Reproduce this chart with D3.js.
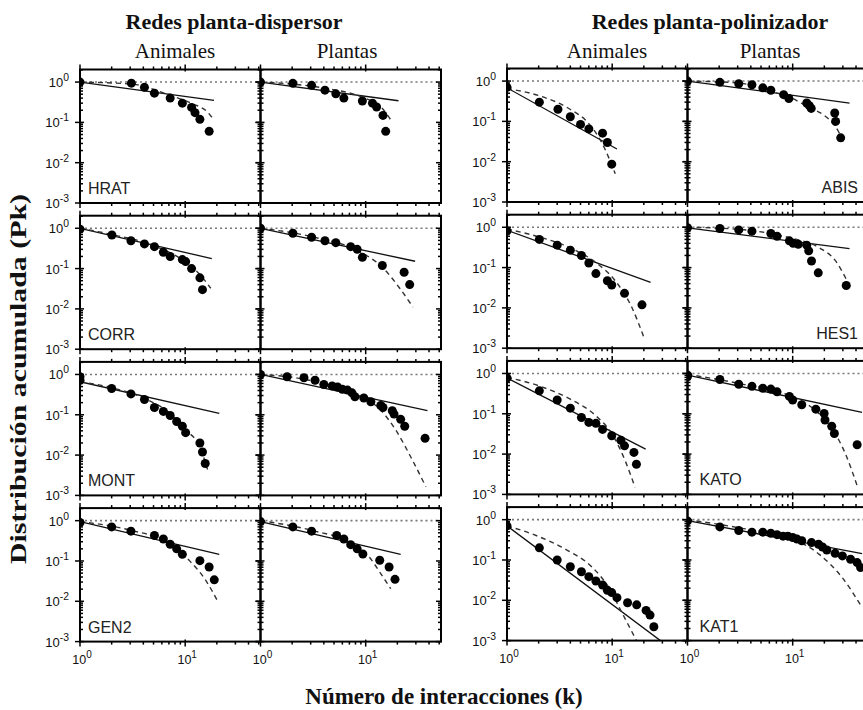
<!DOCTYPE html>
<html><head><meta charset="utf-8">
<script src="https://cdn.jsdelivr.net/npm/d3@7"></script>
<style>body{margin:0;background:#fff} svg{display:block}</style>
</head><body>
<svg id="chart" width="863" height="710"></svg>
<script>
// ---------- DATA (k, P) ----------
const groupTitles = ["Redes planta-dispersor", "Redes planta-polinizador"];
const colTitles = ["Animales", "Plantas", "Animales", "Plantas"];
const netNames = ["HRAT", "CORR", "MONT", "GEN2", "ABIS", "HES1", "KATO", "KAT1"];
const xTickLabels = [[1, "0"], [10, "1"]];
const yTickLabels = [[1, "0"], [0.1, "-1"], [0.01, "-2"], [0.001, "-3"]];

// HRAT
const hratA_pts = [[1,1],[3.08,0.94],[4.1,0.74],[5.1,0.53],[7.2,0.40],[9.4,0.30],[11.5,0.235],[12.4,0.174],[13.8,0.119],[16.9,0.060]];
const hratA_pow = [[1,1],[18.8,0.35]];
const hratA_cut = [[1,1],[3.1,0.89],[7.2,0.47],[11.7,0.29],[16.3,0.18],[18.5,0.12]];
const hratP_pts = [[1,1],[2.03,0.93],[3.06,0.83],[4.1,0.63],[5.2,0.51],[6.2,0.40],[9.3,0.34],[11.6,0.30],[12.7,0.24],[14.6,0.149],[15.5,0.060]];
const hratP_pow = [[1,1],[20.5,0.344]];
const hratP_cut = [[1,1],[4.1,0.70],[9.3,0.42],[14.2,0.23],[17.7,0.106]];
// CORR
const corrA_pts = [[1,0.95],[2.01,0.68],[3.05,0.49],[4.1,0.41],[5.1,0.35],[6.2,0.254],[7.2,0.20],[9.4,0.167],[10.1,0.149],[11.5,0.10],[13.8,0.059],[14.6,0.030]];
const corrA_pow = [[1,1],[17.9,0.177]];
const corrA_cut = [[1,1],[2,0.70],[5.1,0.365],[9.4,0.164],[13.6,0.074],[17.5,0.0325]];
const corrP_pts = [[1,1],[2.03,0.75],[3.06,0.60],[4.1,0.49],[5.2,0.44],[7.2,0.35],[8.3,0.30],[9.3,0.19],[14.4,0.119],[23.2,0.081],[26.2,0.040]];
const corrP_pow = [[1,1],[29.5,0.152]];
const corrP_cut = [[1,1],[3.06,0.62],[8.3,0.28],[14.4,0.108],[20.8,0.034],[28.2,0.011]];
// MONT
const montA_pts = [[1,0.88],[1,0.72],[2.0,0.45],[3.05,0.33],[4.1,0.24],[5.1,0.152],[6.2,0.121],[7.2,0.096],[8.3,0.068],[9.4,0.052],[10.1,0.036],[13.8,0.020],[14.6,0.0119],[15.5,0.0062]];
const montA_pow = [[1,0.66],[21.1,0.108]];
const montA_cut = [[1,0.66],[2.0,0.47],[4.1,0.254],[7.2,0.108],[10.1,0.042],[13.8,0.016],[16.3,0.0044]];
const montP_pts = [[1,1],[1.79,0.875],[2.59,0.83],[3.3,0.72],[4.0,0.565],[4.8,0.52],[5.4,0.49],[6.0,0.43],[6.7,0.41],[7.4,0.35],[7.9,0.28],[9.6,0.26],[11.2,0.21],[13.9,0.17],[14.6,0.152],[17.9,0.126],[18.6,0.104],[21.5,0.077],[23.5,0.052],[36.7,0.026]];
const montP_pow = [[1,1],[38.7,0.126]];
const montP_cut = [[1,1],[2.9,0.72],[7.9,0.31],[13.4,0.144],[19.3,0.042],[27.8,0.0075],[37.3,0.00164]];
// GEN2
const gen2A_pts = [[1,0.9],[2.0,0.70],[3.05,0.55],[5.1,0.43],[6.2,0.35],[7.2,0.26],[8.3,0.20],[9.4,0.146],[13.8,0.102],[16.9,0.071],[18.9,0.034]];
const gen2A_pow = [[1,0.95],[21.1,0.146]];
const gen2A_cut = [[1,0.95],[3.05,0.575],[7.2,0.27],[10.9,0.104],[15.7,0.033],[20.3,0.0102]];
const gen2P_pts = [[1,0.95],[2.03,0.70],[3.06,0.55],[5.3,0.43],[6.2,0.35],[7.2,0.254],[8.3,0.20],[9.4,0.149],[13.6,0.104],[16.7,0.071],[19.0,0.035]];
const gen2P_pow = [[1,0.95],[21.5,0.146]];
const gen2P_cut = [[1,1],[3.06,0.575],[7.2,0.28],[10.8,0.126],[13.9,0.0485],[17.3,0.0206]];
// ABIS
const abisA_pts = [[1,0.70],[2.03,0.30],[3.05,0.20],[4.0,0.13],[5.0,0.084],[6.0,0.065],[8.1,0.051],[9.0,0.030],[9.9,0.0087]];
const abisA_pow = [[1,0.68],[11.1,0.0206]];
const abisA_cut = [[1,0.65],[1.98,0.44],[3.9,0.206],[6.0,0.088],[8.0,0.029],[10.7,0.005]];
const abisP_pts = [[1,1],[2.03,0.93],[3.07,0.86],[4.1,0.81],[5.2,0.68],[6.2,0.59],[8.2,0.46],[9.2,0.37],[13.6,0.285],[14.4,0.245],[15.0,0.21],[25.1,0.161],[25.6,0.10],[28.6,0.039]];
const abisP_pow = [[1,1],[34.7,0.285]];
const abisP_cut = [[1,1],[3.07,0.9],[6.0,0.565],[9.3,0.40],[14.4,0.22],[20,0.14],[25,0.08],[30.7,0.031]];
// HES1
const hes1A_pts = [[1,0.81],[2.03,0.50],[3.0,0.36],[4.0,0.27],[5.1,0.20],[6.0,0.13],[7.0,0.071],[9.0,0.047],[9.9,0.037],[13.1,0.023],[19.2,0.0119]];
const hes1A_pow = [[1,0.84],[23.2,0.043]];
const hes1A_cut = [[1,0.9],[2.03,0.575],[4.0,0.31],[7.0,0.133],[10.7,0.047],[15.4,0.0102],[20.1,0.0018]];
const hes1P_pts = [[1,0.97],[2.03,0.93],[3.07,0.86],[4.1,0.80],[6.2,0.70],[7.1,0.60],[9.3,0.46],[10.1,0.40],[11.3,0.38],[13.6,0.36],[14.2,0.26],[15.1,0.146],[17.5,0.074],[32.3,0.036]];
const hes1P_pow = [[1,0.97],[34.7,0.296]];
const hes1P_cut = [[1,1],[3.07,0.89],[9.3,0.55],[17.9,0.31],[25.6,0.146],[31.8,0.056],[36.3,0.029]];
// KATO
const katoA_pts = [[1,0.77],[2.03,0.37],[3.0,0.22],[4.0,0.138],[5.1,0.081],[6.0,0.061],[7.0,0.058],[8.1,0.041],[9.9,0.0285],[12.1,0.022],[13.1,0.016],[16.1,0.011],[17.0,0.0056]];
const katoA_pow = [[1,0.77],[20.8,0.0133]];
const katoA_cut = [[1,0.8],[2.03,0.49],[4.0,0.23],[7.0,0.089],[10,0.031],[13.3,0.0068],[16.5,0.0015]];
const katoP_pts = [[1,0.91],[1,0.84],[2.03,0.71],[3.07,0.54],[4.1,0.48],[5.2,0.43],[6.2,0.41],[7.1,0.35],[9.3,0.27],[10,0.22],[12.2,0.167],[16.6,0.13],[19.9,0.102],[20.3,0.070],[23.5,0.049],[24.9,0.0325],[41,0.017]];
const katoP_pow = [[1,0.91],[45.7,0.108]];
const katoP_cut = [[1,0.95],[3.07,0.565],[9.3,0.28],[16.6,0.119],[23.8,0.042],[31.8,0.01],[41,0.00164]];
// KAT1
const kat1A_pts = [[1,0.70],[2.03,0.20],[3.0,0.10],[4.0,0.068],[5.1,0.051],[6.0,0.0386],[7.0,0.030],[8.1,0.024],[9.0,0.0177],[9.9,0.0155],[11.1,0.0116],[14.0,0.0087],[17.1,0.0077],[21.0,0.0056],[22.9,0.0043],[24.9,0.0022]];
const kat1A_pow = [[1,0.70],[28.7,0.001]];
const kat1A_cut = [[1,0.70],[1.78,0.43],[3.65,0.18],[6.5,0.065],[9.3,0.0206],[12.4,0.0049],[17.1,0.00098]];
const kat1P_pts = [[1,0.93],[2.03,0.66],[3.07,0.54],[4.1,0.49],[5.2,0.49],[6.2,0.46],[7.1,0.425],[8.1,0.39],[9.0,0.39],[10,0.36],[11,0.33],[12.2,0.30],[15.1,0.27],[17.6,0.245],[19.2,0.21],[21.1,0.177],[25.3,0.146],[29.7,0.126],[35.5,0.104],[41,0.086],[44.2,0.065]];
const kat1P_pow = [[1,0.95],[45.7,0.144]];
const kat1P_cut = [[1,1],[3.07,0.63],[10,0.33],[17.9,0.138],[29.7,0.036],[45.7,0.0066]];

// ---------- panel table ----------
const panels = [
  {row:0,col:0,pts:hratA_pts,pow:hratA_pow,cut:hratA_cut,label:"HRAT",lab:"left"},
  {row:0,col:1,pts:hratP_pts,pow:hratP_pow,cut:hratP_cut},
  {row:1,col:0,pts:corrA_pts,pow:corrA_pow,cut:corrA_cut,label:"CORR",lab:"left"},
  {row:1,col:1,pts:corrP_pts,pow:corrP_pow,cut:corrP_cut},
  {row:2,col:0,pts:montA_pts,pow:montA_pow,cut:montA_cut,label:"MONT",lab:"left"},
  {row:2,col:1,pts:montP_pts,pow:montP_pow,cut:montP_cut},
  {row:3,col:0,pts:gen2A_pts,pow:gen2A_pow,cut:gen2A_cut,label:"GEN2",lab:"left"},
  {row:3,col:1,pts:gen2P_pts,pow:gen2P_pow,cut:gen2P_cut},
  {row:0,col:2,pts:abisA_pts,pow:abisA_pow,cut:abisA_cut},
  {row:0,col:3,pts:abisP_pts,pow:abisP_pow,cut:abisP_cut,label:"ABIS",lab:"right"},
  {row:1,col:2,pts:hes1A_pts,pow:hes1A_pow,cut:hes1A_cut},
  {row:1,col:3,pts:hes1P_pts,pow:hes1P_pow,cut:hes1P_cut,label:"HES1",lab:"right"},
  {row:2,col:2,pts:katoA_pts,pow:katoA_pow,cut:katoA_cut},
  {row:2,col:3,pts:katoP_pts,pow:katoP_pow,cut:katoP_cut,label:"KATO",lab:"left"},
  {row:3,col:2,pts:kat1A_pts,pow:kat1A_pow,cut:kat1A_cut},
  {row:3,col:3,pts:kat1P_pts,pow:kat1P_pow,cut:kat1P_cut,label:"KAT1",lab:"left"}
];

// ---------- layout ----------
const svg = d3.select("#chart");
const colX = [80, 260.5, 507, 687.5];
const panelW = 180.5;
const rowY = [69.5, 215.7, 361.9, 508.1];
const panelH = 133.5;
const colDy = [0, 0, -1, -1];
const xDomain = [1, 52];
const yDomain = [0.001, 2.05];
const sans = "'Liberation Sans', Arial, Helvetica, sans-serif";
const serif = "'Liberation Serif', 'Times New Roman', serif";

const xMinor = [2,3,4,5,6,7,8,9,20,30,40,50];
const yMinor = [];
for (let d = -3; d <= 0; d++) for (let m = 2; m <= 9; m++) { const v = m * Math.pow(10, d); if (v <= 2.0) yMinor.push(v); }
const yMajor = [1, 0.1, 0.01, 0.001];
const xMajor = [1, 10];

function supText(g, x, y, base, exp, anchor, size) {
  const t = g.append("text").attr("x", x).attr("y", y).attr("text-anchor", anchor)
    .attr("font-family", sans).attr("font-size", size).attr("fill", "#111");
  t.append("tspan").text(base);
  t.append("tspan").attr("dy", -6).attr("font-size", size * 0.8).text(exp);
  return t;
}

const defs = svg.append("defs");

panels.forEach((p, i) => {
  const x0 = colX[p.col], y0 = rowY[p.row] + colDy[p.col];
  const x = d3.scaleLog().domain(xDomain).range([x0, x0 + panelW]);
  const y = d3.scaleLog().domain(yDomain).range([y0 + panelH, y0]);
  const g = svg.append("g");

  defs.append("clipPath").attr("id", "clip" + i).append("rect")
    .attr("x", x0).attr("y", y0).attr("width", panelW).attr("height", panelH);
  const inner = g.append("g").attr("clip-path", "url(#clip" + i + ")");

  inner.append("line").attr("x1", x0).attr("x2", x0 + panelW).attr("y1", y(1)).attr("y2", y(1))
    .attr("stroke", "#777").attr("stroke-width", 1.6).attr("stroke-dasharray", "2,3");

  const line = d3.line().x(d => x(d[0])).y(d => y(d[1]));
  inner.append("path").attr("d", line(p.pow)).attr("fill", "none").attr("stroke", "#111").attr("stroke-width", 1.3);
  inner.append("path").attr("d", line.curve(d3.curveMonotoneX)(p.cut)).attr("fill", "none")
    .attr("stroke", "#333").attr("stroke-width", 1.4).attr("stroke-dasharray", "5,4");

  inner.selectAll("circle").data(p.pts).join("circle")
    .attr("cx", d => x(d[0])).attr("cy", d => y(d[1])).attr("r", 4.5).attr("fill", "#000");

  g.append("rect").attr("x", x0).attr("y", y0).attr("width", panelW).attr("height", panelH)
    .attr("fill", "none").attr("stroke", "#000").attr("stroke-width", 2);

  const tk = g.append("g").attr("stroke", "#000").attr("stroke-width", 1.5);
  yMajor.forEach(v => {
    tk.append("line").attr("x1", x0 - 5).attr("x2", x0 + 4).attr("y1", y(v)).attr("y2", y(v));
    tk.append("line").attr("x1", x0 + panelW - 5).attr("x2", x0 + panelW).attr("y1", y(v)).attr("y2", y(v));
  });
  yMinor.forEach(v => {
    tk.append("line").attr("x1", x0).attr("x2", x0 + 3).attr("y1", y(v)).attr("y2", y(v));
    tk.append("line").attr("x1", x0 + panelW - 3).attr("x2", x0 + panelW).attr("y1", y(v)).attr("y2", y(v));
  });
  xMajor.forEach(v => {
    tk.append("line").attr("x1", x(v)).attr("x2", x(v)).attr("y1", y0 - 5).attr("y2", y0 + 2);
    tk.append("line").attr("x1", x(v)).attr("x2", x(v)).attr("y1", y0 + panelH - 2).attr("y2", y0 + panelH + 5);
  });
  xMinor.forEach(v => {
    if (x(v) > x0 + panelW) return;
    tk.append("line").attr("x1", x(v)).attr("x2", x(v)).attr("y1", y0 - 3).attr("y2", y0);
    tk.append("line").attr("x1", x(v)).attr("x2", x(v)).attr("y1", y0 + panelH).attr("y2", y0 + panelH + 3);
  });

  if (p.col === 0 || p.col === 2) {
    yTickLabels.forEach(([v, e]) => supText(g, x0 - 11, y(v) + 5, "10", e, "end", 13));
  }
  if (p.row === 3) {
    xTickLabels.forEach(([v, e]) => supText(g, x(v) + 2, y0 + panelH + 22, "10", e, "middle", 12.5));
  }
  if (p.label) {
    const lx = p.lab === "right" ? x0 + panelW - 10 : x0 + 8 + (p.col === 3 ? 4 : 0);
    g.append("text").attr("x", lx).attr("y", y0 + panelH - 9)
      .attr("text-anchor", p.lab === "right" ? "end" : "start")
      .attr("font-family", sans).attr("font-size", 16).attr("fill", "#222").text(p.label);
  }
});

const groupCx = [234, 710];
groupTitles.forEach((t, i) => {
  svg.append("text").attr("x", groupCx[i]).attr("y", 29).attr("text-anchor", "middle")
    .attr("font-family", serif).attr("font-weight", "bold").attr("font-size", 22).attr("fill", "#111").text(t);
});
const colCx = [175, 347, 607, 770];
colTitles.forEach((t, i) => {
  svg.append("text").attr("x", colCx[i]).attr("y", 58).attr("text-anchor", "middle")
    .attr("font-family", serif).attr("font-size", 21).attr("fill", "#111").text(t);
});

svg.append("text").attr("x", 444).attr("y", 704).attr("text-anchor", "middle")
  .attr("font-family", serif).attr("font-weight", "bold").attr("font-size", 23).attr("fill", "#111")
  .text("Número de interacciones (k)");
svg.append("text").attr("transform", "translate(26,379) rotate(-90)").attr("text-anchor", "middle")
  .attr("font-family", serif).attr("font-weight", "bold").attr("font-size", 23).attr("fill", "#111")
  .attr("textLength", 370).attr("lengthAdjust", "spacingAndGlyphs")
  .text("Distribución acumulada (Pk)");
</script>
</body></html>
